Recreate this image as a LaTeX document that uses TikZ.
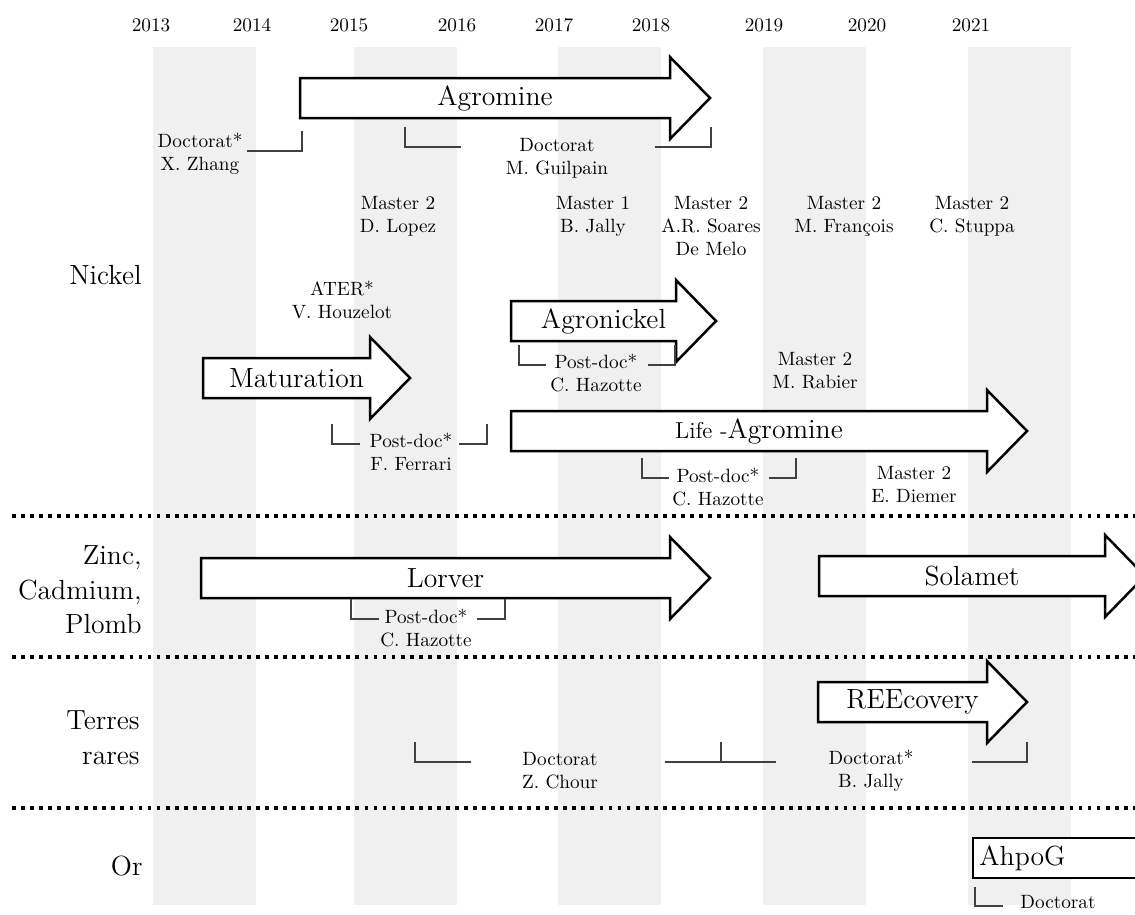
\documentclass[tikz,border=0pt]{standalone}
\usepackage{tikz}

\tikzset{
  bande/.style={fill=black!6},
  annee/.style={inner sep=0pt},
  separation/.style={line width=1.6pt, dash pattern=on 2pt off 2.7pt},
  theme/.style={font=\Large, align=right, anchor=east, inner sep=0pt},
  fleche/.style={draw, fill=white, line width=1.3pt},
  nomprojet/.style={font=\Large, inner sep=0pt},
  crochet/.style={black!75, line width=0.6pt},
  personne/.style={align=center, anchor=north, inner sep=0pt}
}

% project arrow: name, start, tip, middle height, text
\newcommand{\projet}[5]{%
  \draw[fleche] (#2,#4-20) -- (#3-40,#4-20) -- (#3-40,#4-41) -- (#3,#4)
    -- (#3-40,#4+41) -- (#3-40,#4+20) -- (#2,#4+20) -- cycle;
  \node[nomprojet] (#1) at ({(#2+#3-20)/2},#4) {#5};}

% bracket under a project: left, right, height, arm
\newcommand{\crochet}[4]{%
  \draw[crochet] (#1,#3-20) |- (#1+#4,#3);
  \draw[crochet] (#2-#4,#3) -| (#2,#3-20);}

\begin{document}
\begin{tikzpicture}[x=0.52pt,y=-0.52pt]
  \useasboundingbox (0,0) rectangle (1135,914);
  \clip (0,0) rectangle (1135,914);
  %bands
  \foreach \x in {153,354,558,763,968}
      \fill[bande] (\x,47) rectangle (\x+103,905);
  %years
  \foreach \x/\an in {151/2013,252/2014,349/2015,457/2016,554/2017,
                      651/2018,764/2019,867/2020,971/2021}
      \node[annee] (an\an) at (\x,25) {\an};
  %separators
  \foreach \y in {516,657,808}
      \draw[separation] (12,\y) -- (1140,\y);
  %themes
  \node[theme] (nickel) at (142,275) {Nickel};
  \node[theme] (zinc) at (142,590) {Zinc,\\Cadmium,\\Plomb};
  \node[theme] (terres) at (140,738) {Terres\\rares};
  \node[theme] (or) at (143,866) {Or};

  %projects
  \projet{agromine}{300}{710}{98}{Agromine}
  \projet{maturation}{203}{410}{378}{Maturation}
  \projet{agronickel}{511}{716}{321}{Agronickel}
  \projet{life}{511}{1027}{431}{{\large Life -}Agromine}
  \projet{lorver}{201}{710}{578}{Lorver}
  \projet{solamet}{819}{1145}{576}{Solamet}
  \projet{reecovery}{818}{1027}{702}{REEcovery}
  \draw[fleche] (973,838) rectangle (1160,878);
  \node[nomprojet, anchor=west] (ahpog) at (979,858) {AhpoG};

  %brackets
  \draw[crochet] (247,151) -| (302,131);
  \crochet{405}{711}{147}{56}
  \crochet{519}{675}{365}{27}
  \crochet{332}{487}{444}{28}
  \crochet{642}{796}{478}{27}
  \crochet{351}{505}{619}{28}
  \crochet{415}{721}{762}{56}
  \crochet{721}{1027}{762}{55}
  \draw[crochet] (975,887) |- (1003,906);

  %people
  \node[personne] (zhang) at (200,133) {Doctorat*\\X. Zhang};
  \node[personne] (guilpain) at (557,138) {Doctorat\\M. Guilpain};
  \node[personne] (lopez) at (398,196) {Master 2\\D. Lopez};
  \node[personne] (jallyM) at (593,196) {Master 1\\B. Jally};
  \node[personne] (soares) at (711,196) {Master 2\\A.R. Soares\\De Melo};
  \node[personne] (francois) at (844,196) {Master 2\\M. François};
  \node[personne] (stuppa) at (972,196) {Master 2\\C. Stuppa};
  \node[personne] (houzelot) at (342,281) {ATER*\\V. Houzelot};
  \node[personne] (hazotteA) at (596,354) {Post-doc*\\C. Hazotte};
  \node[personne] (rabier) at (815,352) {Master 2\\M. Rabier};
  \node[personne] (ferrari) at (411,433) {Post-doc*\\F. Ferrari};
  \node[personne] (hazotteL) at (718,468) {Post-doc*\\C. Hazotte};
  \node[personne] (diemer) at (914,466) {Master 2\\E. Diemer};
  \node[personne] (hazotteZ) at (426,609) {Post-doc*\\C. Hazotte};
  \node[personne] (chour) at (560,752) {Doctorat\\Z. Chour};
  \node[personne] (jallyD) at (871,750) {Doctorat*\\B. Jally};
  \node[personne] (doctahpog) at (1058,895) {Doctorat};
\end{tikzpicture}
\end{document}
